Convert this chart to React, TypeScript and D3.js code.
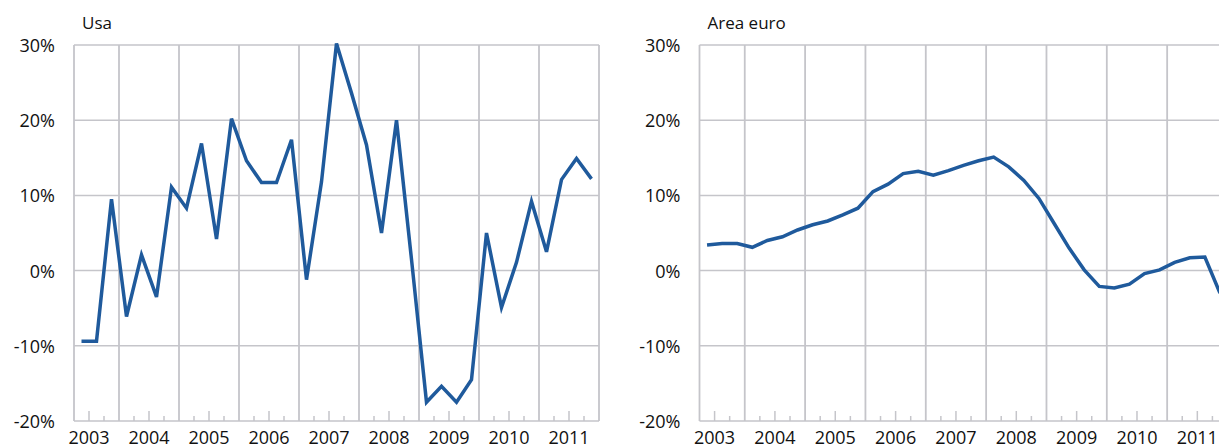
import React, { useEffect, useRef } from 'react';
import * as d3 from 'd3';

// quarterly data, 2003 Q2 .. 2011 Q4 (values in %)
const quarters: string[] = [
    '2003Q2', '2003Q3', '2003Q4',
    '2004Q1', '2004Q2', '2004Q3', '2004Q4',
    '2005Q1', '2005Q2', '2005Q3', '2005Q4',
    '2006Q1', '2006Q2', '2006Q3', '2006Q4',
    '2007Q1', '2007Q2', '2007Q3', '2007Q4',
    '2008Q1', '2008Q2', '2008Q3', '2008Q4',
    '2009Q1', '2009Q2', '2009Q3', '2009Q4',
    '2010Q1', '2010Q2', '2010Q3', '2010Q4',
    '2011Q1', '2011Q2', '2011Q3', '2011Q4',
];

const usa: number[] = [
    -9.4, -9.4, 9.5,
    -6.1, 2.1, -3.5, 11.1,
    8.3, 16.9, 4.2, 20.2,
    14.6, 11.7, 11.7, 17.4,
    -1.2, 11.8, 30.2, 23.6,
    16.7, 5.0, 20.0, 1.5,
    -17.5, -15.4, -17.5, -14.5,
    5.0, -4.9, 1.1, 9.2,
    2.5, 12.1, 14.9, 12.2,
];

const areaEuro: number[] = [
    3.4, 3.6, 3.6,
    3.1, 4.0, 4.5, 5.4,
    6.1, 6.6, 7.4, 8.3,
    10.5, 11.5, 12.9, 13.2,
    12.7, 13.3, 14.0, 14.6,
    15.1, 13.8, 12.0, 9.6,
    6.3, 3.0, 0.1, -2.1,
    -2.3, -1.8, -0.4, 0.1,
    1.1, 1.7, 1.8, -3.0,
];

const years: number[] = [2003, 2004, 2005, 2006, 2007, 2008, 2009, 2010, 2011];
const yTicks: number[] = [-20, -10, 0, 10, 20, 30];

const FONT = '"Open Sans", sans-serif';
const GRID = '#c5c5ca';
const LINE = '#1f5a9c';

const toYear = (q: string) => +q.slice(0, 4) + (+q.slice(5) - 0.5) / 4;

const App: React.FC = () => {
    const svgRef = useRef<SVGSVGElement>(null);

    const width = 1219;
    const height = 447;

    useEffect(() => {
        if (!svgRef.current) return;
        const svg = d3.select(svgRef.current);
        svg.selectAll('*').remove();

        const drawPanel = (title: string, values: number[], left: number, right: number) => {
            const top = 45;
            const bottom = 421;

            const x = d3.scaleLinear().domain([2003.25, 2012]).range([left, right]);
            const y = d3.scaleLinear().domain([-20, 30]).range([bottom, top]);

            const g = svg.append('g');

            // horizontal grid
            g.selectAll('line.h')
                .data(yTicks)
                .join('line')
                .attr('x1', left)
                .attr('x2', right)
                .attr('y1', d => y(d))
                .attr('y2', d => y(d))
                .attr('stroke', GRID)
                .attr('stroke-width', 1.5);

            // vertical grid at year boundaries + frame
            const vlines = [2003.25, ...years.slice(1), 2012];
            g.selectAll('line.v')
                .data(vlines)
                .join('line')
                .attr('x1', d => x(d))
                .attr('x2', d => x(d))
                .attr('y1', top)
                .attr('y2', bottom)
                .attr('stroke', GRID)
                .attr('stroke-width', 1.8);

            // quarter ticks on the bottom axis
            const qTicks = d3.range(2003.5, 2012, 0.25).filter(d => d % 1 !== 0);
            g.selectAll('line.t')
                .data(qTicks)
                .join('line')
                .attr('x1', d => x(d))
                .attr('x2', d => x(d))
                .attr('y1', d => (d % 1 === 0.5 ? bottom - 10 : bottom - 5))
                .attr('y2', bottom)
                .attr('stroke', GRID)
                .attr('stroke-width', 1.5);

            // y labels
            g.selectAll('text.y')
                .data(yTicks)
                .join('text')
                .attr('x', left - 19)
                .attr('y', d => y(d) + 7)
                .attr('text-anchor', 'end')
                .attr('font-family', FONT)
                .attr('font-size', 18)
                .attr('fill', '#111')
                .text(d => `${d}%`);

            // x labels
            g.selectAll('text.x')
                .data(years)
                .join('text')
                .attr('x', d => x(d + 0.5))
                .attr('y', 444)
                .attr('text-anchor', 'middle')
                .attr('font-family', FONT)
                .attr('font-size', 18)
                .attr('fill', '#111')
                .text(d => String(d));

            // title
            g.append('text')
                .attr('x', left + 8)
                .attr('y', 29)
                .attr('font-family', FONT)
                .attr('font-size', 17)
                .attr('fill', '#111')
                .text(title);

            const line = d3.line<number>()
                .x((d, i) => x(toYear(quarters[i])))
                .y(d => y(d));

            g.append('path')
                .datum(values)
                .attr('fill', 'none')
                .attr('stroke', LINE)
                .attr('stroke-width', 3.5)
                .attr('stroke-linejoin', 'miter')
                .attr('d', line);
        };

        drawPanel('Usa', usa, 74, 599);
        drawPanel('Area euro', areaEuro, 699.5, 1227.5);
    }, []);

    return (
        <svg
            ref={svgRef}
            width={width}
            height={height}
            style={{ position: 'absolute', left: 0, top: 0, background: '#fff' }}
        ></svg>
    );
};

export default App;
